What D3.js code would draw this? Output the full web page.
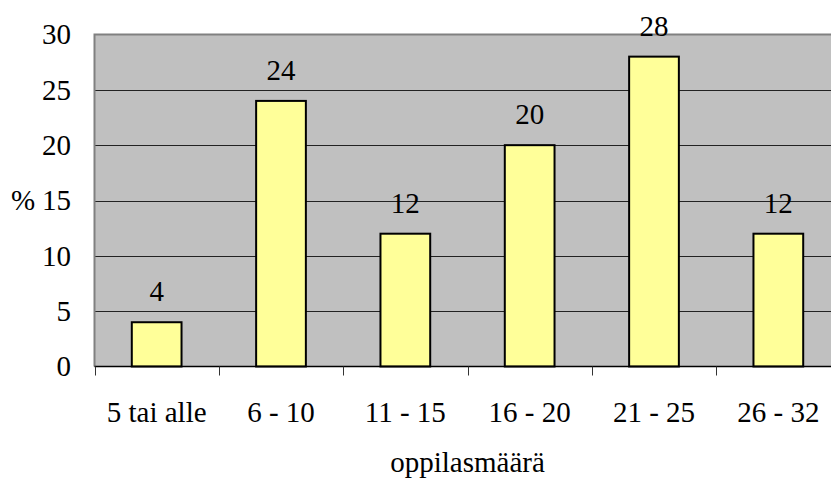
<!DOCTYPE html>
<html>
<head>
<meta charset="utf-8">
<script src="https://cdn.jsdelivr.net/npm/d3@7"></script>
<style>
  html, body { margin: 0; padding: 0; background: #fff; overflow: hidden; }
  svg { display: block; }
</style>
</head>
<body>
<svg id="chart" width="831" height="480"></svg>
<script>
// Class-size distribution (% of schools per pupil-count group)
const categories = ["5 tai alle", "6 - 10", "11 - 15", "16 - 20", "21 - 25", "26 - 32"];
const values = [4, 24, 12, 20, 28, 12];
const yTicks = [0, 5, 10, 15, 20, 25, 30];
const xTitle = "oppilasmäärä";
const yTitle = "%";

const svg = d3.select("#chart");
const plot = { left: 94.5, top: 34.5, right: 840.5, bottom: 366.5 };
const fontSize = 29;
const serif = "Liberation Serif";

const x = d3.scaleBand().domain(categories).range([plot.left, plot.right]).paddingInner(0).paddingOuter(0);
const y = d3.scaleLinear().domain([0, 30]).range([plot.bottom, plot.top]);

// plot background
svg.append("rect")
  .attr("x", plot.left).attr("y", plot.top)
  .attr("width", plot.right - plot.left).attr("height", plot.bottom - plot.top)
  .attr("fill", "#c0c0c0");

// horizontal gridlines
svg.append("g").selectAll("line")
  .data(yTicks.filter(t => t > 0 && t < 30))
  .join("line")
  .attr("x1", plot.left).attr("x2", plot.right)
  .attr("y1", d => Math.round(y(d)) + 0.5).attr("y2", d => Math.round(y(d)) + 0.5)
  .attr("stroke", "#222").attr("stroke-width", 1);

// grey frame (top and left)
svg.append("path")
  .attr("d", `M${plot.left},${plot.bottom} V${plot.top} H${plot.right}`)
  .attr("fill", "none").attr("stroke", "#808080").attr("stroke-width", 2);

// bars
const bw = x.bandwidth();
const rows = categories.map((c, i) => ({ c, v: values[i] }));
svg.append("g").selectAll("rect")
  .data(rows)
  .join("rect")
  .attr("x", d => x(d.c) + bw * 0.3)
  .attr("y", d => y(d.v))
  .attr("width", bw * 0.4)
  .attr("height", d => y(0) - y(d.v))
  .attr("fill", "#ffff99")
  .attr("stroke", "#000").attr("stroke-width", 2);

function label(sel) {
  return sel.attr("font-family", serif).attr("font-size", fontSize).attr("fill", "#000");
}

// value labels
svg.append("g").selectAll("text")
  .data(rows)
  .join("text")
  .call(label)
  .attr("x", d => x(d.c) + bw / 2)
  .attr("y", d => y(d.v) - 21)
  .attr("text-anchor", "middle")
  .text(d => d.v);

// x axis
const xAxis = svg.append("g").attr("transform", `translate(0,${plot.bottom})`);
xAxis.append("line")
  .attr("x1", plot.left).attr("x2", plot.right)
  .attr("stroke", "#000").attr("stroke-width", 1.5);
xAxis.selectAll("line.tick")
  .data(categories)
  .join("line").attr("class", "tick")
  .attr("x1", d => Math.round(x(d)) + 0.5).attr("x2", d => Math.round(x(d)) + 0.5)
  .attr("y1", 0).attr("y2", 9)
  .attr("stroke", "#333").attr("stroke-width", 1);
xAxis.selectAll("text")
  .data(categories)
  .join("text")
  .call(label)
  .attr("x", d => x(d) + bw / 2)
  .attr("y", 55)
  .attr("text-anchor", "middle")
  .text(d => d);

// y axis labels
svg.append("g").selectAll("text")
  .data(yTicks)
  .join("text")
  .call(label)
  .attr("x", 71)
  .attr("y", d => y(d))
  .attr("dy", "0.34em")
  .attr("text-anchor", "end")
  .text(d => d);

// axis titles
svg.append("text")
  .call(label)
  .attr("x", (plot.left + plot.right) / 2)
  .attr("y", 472)
  .attr("text-anchor", "middle")
  .text(xTitle);

svg.append("text")
  .call(label)
  .attr("x", 11)
  .attr("y", (plot.top + plot.bottom) / 2)
  .attr("dy", "0.34em")
  .text(yTitle);
</script>
</body>
</html>
